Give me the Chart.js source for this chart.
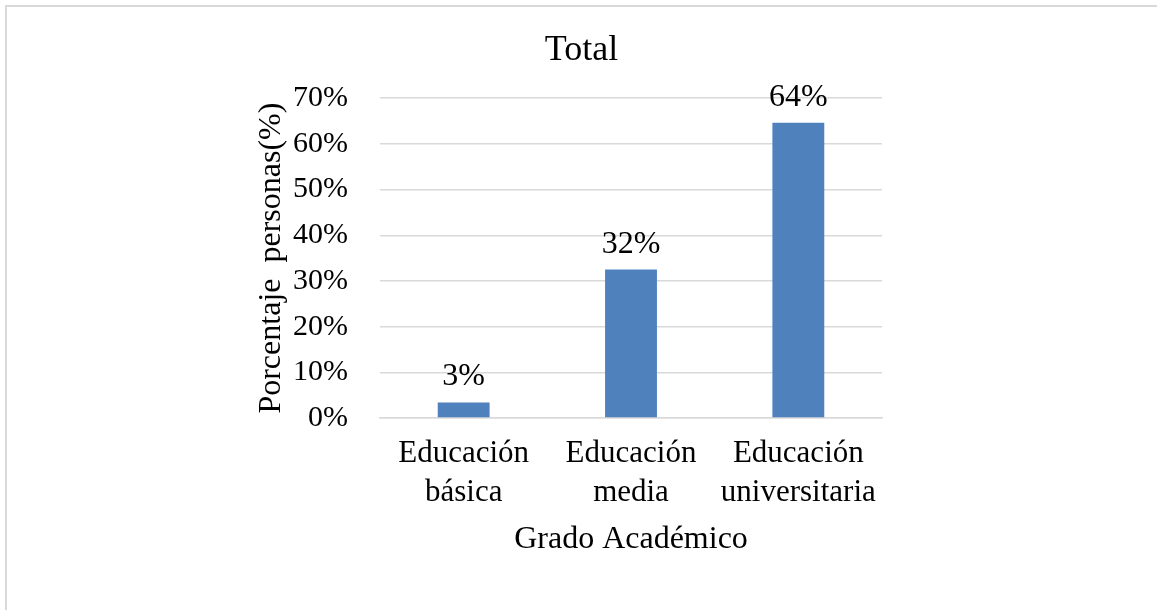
<!DOCTYPE html>
<html>
<head>
<meta charset="utf-8">
<script src="https://cdn.jsdelivr.net/npm/chart.js@4/dist/chart.umd.min.js"></script>
<style>
  html, body { margin: 0; padding: 0; background: #fff; }
  #wrap { width: 1157px; height: 610px; }
</style>
</head>
<body>
<div id="wrap"><canvas id="myChart" width="1157" height="610"></canvas></div>
<script>
// categories + values
var categories = [['Educación', 'básica'], ['Educación', 'media'], ['Educación', 'universitaria']];
var percentages = [3.4, 32.5, 64.6];
var valueLabels = ['3%', '32%', '64%'];
var yTicks = [0, 10, 20, 30, 40, 50, 60, 70];

var serif = "'Liberation Serif', 'Times New Roman', serif";

// outer frame (only top/left edge show in the picture)
var frame = {
  id: 'frame',
  beforeDraw: function (chart) {
    var c = chart.ctx;
    c.save();
    c.fillStyle = '#fff';
    c.fillRect(0, 0, chart.width, chart.height);
    c.strokeStyle = '#d9d9d9';
    c.lineWidth = 2;
    c.strokeRect(6, 6, chart.width + 10, chart.height + 10);
    c.restore();
  }
};

// value labels above bars
var barLabels = {
  id: 'barLabels',
  afterDatasetsDraw: function (chart) {
    var c = chart.ctx;
    var meta = chart.getDatasetMeta(0);
    c.save();
    c.font = '32px ' + serif;
    c.fillStyle = '#000';
    c.textAlign = 'center';
    c.textBaseline = 'alphabetic';
    meta.data.forEach(function (bar, i) {
      c.fillText(valueLabels[i], bar.x, bar.y - 17);
    });
    c.restore();
  }
};

var ctx = document.getElementById('myChart');
var myChart = new Chart(ctx, {
  type: 'bar',
  data: {
    labels: categories,
    datasets: [{
      data: percentages,
      backgroundColor: '#4f81bd',
      borderWidth: 0,
      categoryPercentage: 1,
      barPercentage: 0.31
    }]
  },
  options: {
    responsive: false,
    animation: false,
    layout: { padding: { left: 281, right: 275, top: 10, bottom: 52 } },
    plugins: {
      legend: { display: false },
      tooltip: { enabled: false },
      title: {
        display: true,
        text: 'Total',
        color: '#000',
        font: { family: serif, size: 36, weight: 'normal' },
        padding: { top: 19, bottom: 26 }
      }
    },
    scales: {
      x: {
        grid: { display: false, drawTicks: false },
        border: { display: true, color: '#d9d9d9', width: 1.5 },
        ticks: {
          color: '#000',
          font: { family: serif, size: 31, lineHeight: 1.24 },
          padding: 17,
          maxRotation: 0,
          autoSkip: false
        },
        title: {
          display: true,
          text: 'Grado Académico',
          color: '#000',
          font: { family: serif, size: 32 },
          padding: { top: 0, bottom: -1 }
        },
        afterFit: function (scale) { scale.height = 140; }
      },
      y: {
        min: 0,
        max: 70,
        grid: { color: '#d9d9d9', lineWidth: 1.5, drawTicks: false },
        border: { display: false },
        afterBuildTicks: function (scale) {
          scale.ticks = yTicks.map(function (v) { return { value: v }; });
        },
        ticks: {
          color: '#000',
          font: { family: serif, size: 30 },
          padding: 32,
          callback: function (v) { return v + '%'; }
        },
        title: {
          display: true,
          text: 'Porcentaje  personas(%)',
          color: '#000',
          font: { family: serif, size: 32 },
          padding: { top: -29, bottom: 0 }
        },
        afterFit: function (scale) { scale.width = 99; }
      }
    }
  },
  plugins: [frame, barLabels]
});
</script>
</body>
</html>
